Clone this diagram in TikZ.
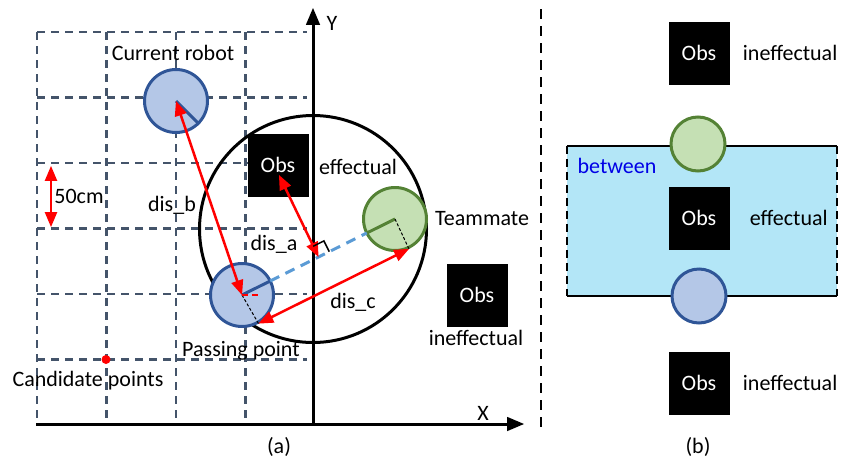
\documentclass[tikz,border=0pt]{standalone}
\usepackage{fontspec}
\setmainfont{Carlito}
\usetikzlibrary{shapes.misc, positioning, arrows, calc}
\definecolor{gridc}{HTML}{44546A}
\definecolor{robotfill}{HTML}{B4C7E7}
\definecolor{robotline}{HTML}{2F5597}
\definecolor{matefill}{HTML}{C5E0B4}
\definecolor{mateline}{HTML}{548235}
\definecolor{passline}{HTML}{5B9BD5}
\definecolor{zonefill}{HTML}{B3E6F7}
\definecolor{zonetext}{HTML}{0000E6}
\tikzset{
  obsbox/.style={fill=black, text=white, minimum width=61pt, minimum height=63pt, inner sep=0pt},
  robot/.style={circle, draw=robotline, fill=robotfill, line width=3pt, minimum size=63pt, inner sep=0pt},
  mate/.style={robot, draw=mateline, fill=matefill},
  gridline/.style={draw=gridc, line width=2.8pt, dash pattern=on 8pt off 6pt},
  axis/.style={line width=3pt, ->},
  dist/.style={red, line width=2.5pt, <->},
  label/.style={inner sep=0pt},
}

\begin{document}
\begin{tikzpicture}[x=1pt, y=-1pt, >=triangle 45, font=\fontsize{22pt}{26pt}\selectfont]
    \useasboundingbox (0,0) rectangle (842,461);
    \foreach \y in {32,97.5,163,228.5,294,359.5}
        \draw[gridline] (37,\y) -- (307,\y);
    \foreach \x in {37,106.5,176,245.5}
        \draw[gridline] (\x,32) -- (\x,424);

    \node (range) [circle, draw, line width=3pt, minimum size=227pt, inner sep=0pt] at (313,229) {};
    \coordinate (origin) at (313,424);
    \coordinate (xstart) at (36,424);
    \coordinate (xend) at (524,424);
    \coordinate (yend) at (313,8);
    \draw[axis] (xstart) -- (xend);
    \draw[axis] (origin) -- (yend);
    \node (xlabel) [label] at (483,413) {X};
    \node (ylabel) [label] at (332,23) {Y};

    \node (obsA) [obsbox] at (278,165) {Obs};
    \node (obsB) [obsbox] at (477,295) {Obs};
    \node (cur) [robot] at (176,101) {};
    \node (pass) [robot] at (242,295) {};
    \node (mate) [mate] at (395,219) {};

    \coordinate (passhead) at ($(pass.center)!31.5pt!(mate.center)$);
    \coordinate (matehead) at ($(mate.center)!31.5pt!(pass.center)$);
    \coordinate (obsfoot) at ($(passhead)!0.5!(matehead)$);
    \coordinate (obspoint) at ($(obsA.center)+(1,10)$);
    \coordinate (passedge) at (pass.-60);
    \coordinate (mateedge) at (mate.-65);
    \draw[robotline, line width=3pt] (cur.center) -- (cur.-45);
    \draw[robotline, line width=3pt] (pass.center) -- (passhead);
    \draw[mateline, line width=3pt] (mate.center) -- (matehead);
    \draw[passline, line width=3pt, dash pattern=on 10pt off 7pt] (passhead) -- (matehead);
    \draw[line width=1pt, dash pattern=on 3pt off 2pt] (pass.center) -- (passedge);
    \draw[line width=1pt, dash pattern=on 3pt off 2pt] (mate.center) -- (mateedge);
    \draw[red, line width=2.5pt, dash pattern=on 6pt off 4pt] (pass.center) -- ($(pass.center)+(19,0)$);
    \draw[dist] (pass.center) -- (cur.center);
    \draw[dist] (obspoint) -- (obsfoot);
    \draw[dist] (passedge) -- (mateedge);
    \draw[line width=1.5pt] ($(obsfoot)!12pt!(matehead)$) -- ($(obsfoot)!12pt!(matehead)!12pt!90:(matehead)$) -- ($(obsfoot)!12pt!90:(matehead)$);

    \coordinate (scaletop) at (51,166);
    \coordinate (scalebot) at (51,227);
    \draw[dist] (scaletop) -- (scalebot);
    \node (cand) [circle, fill=red, inner sep=0pt, minimum size=9pt] at (106,359.5) {};

    \node (curlabel) [label] at (173,53) {Current robot};
    \node (passlabel) [label] at (241,351) {Passing point};
    \node (candlabel) [label] at (88,381) {Candidate points};
    \node (matelabel) [label, right=7pt of mate] {Teammate};
    \node (efflabel) [label] at (358,167) {effectual};
    \node (ineflabel) [label] at (476,338) {ineffectual};
    \node (dista) [label] at (274,244) {dis\_a};
    \node (distb) [label] at (172,205) {dis\_b};
    \node (distc) [label] at (353,302) {dis\_c};
    \node (scalelabel) [label] at (79,196) {50cm};
    \node (capa) [label] at (279,447) {(a)};

    \coordinate (divtop) at (541,9);
    \coordinate (divbot) at (541,431);
    \draw[line width=2.5pt, dash pattern=on 10pt off 7pt] (divtop) -- (divbot);

    \node (zone) [fill=zonefill, minimum width=270pt, minimum height=150pt, inner sep=0pt] at (702,221) {};
    \draw[line width=2.5pt] (zone.north west) -- (zone.north east);
    \draw[line width=2.5pt] (zone.south west) -- (zone.south east);
    \draw[line width=2.5pt, dash pattern=on 8pt off 5pt] (zone.north west) -- (zone.south west);
    \draw[line width=2.5pt, dash pattern=on 8pt off 5pt] (zone.north east) -- (zone.south east);
    \node (zonelabel) [label, text=zonetext] at (617,166) {between};

    \node (obsT) [obsbox] at (699,53) {Obs};
    \node (obsM) [obsbox] at (699,218) {Obs};
    \node (obsU) [obsbox] at (699,383) {Obs};
    \node (mateB) [mate, minimum size=54pt] at (698,144) {};
    \node (passB) [robot, minimum size=54pt] at (699,296) {};
    \node (ineftop) [label, right=13pt of obsT] {ineffectual};
    \node (effmid) [label, right=20pt of obsM] {effectual};
    \node (inefbot) [label, right=13pt of obsU] {ineffectual};
    \node (capb) [label] at (698,447) {(b)};
\end{tikzpicture}
\end{document}
